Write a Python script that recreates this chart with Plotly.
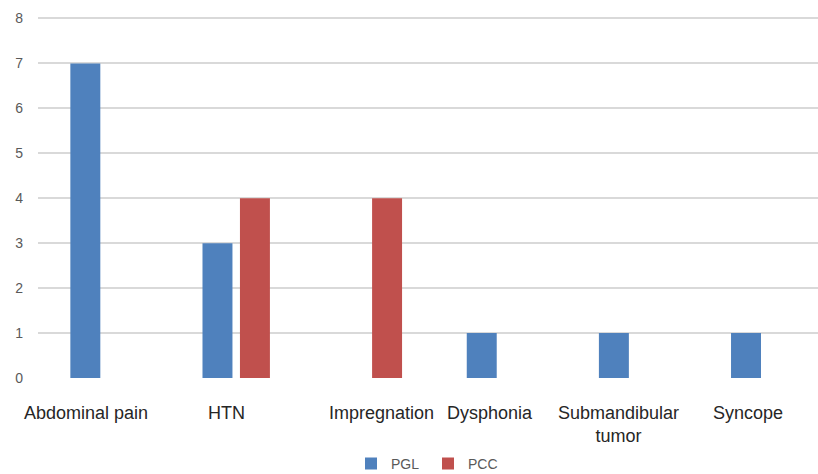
import plotly.graph_objects as go

categories = ["Abdominal pain", "HTN", "Impregnation", "Dysphonia", "Submandibular tumor", "Syncope"]
category_labels = ["Abdominal pain", "HTN", "Impregnation", "Dysphonia", "Submandibular<br>tumor", "Syncope"]
pgl_values = [7, 3, 0, 1, 1, 1]
pcc_values = [0, 4, 4, 0, 0, 0]
y_ticks = [0, 1, 2, 3, 4, 5, 6, 7, 8]

# label horizontal offsets (category units) to mimic original placement
label_offsets = [-0.136, -0.076, 0.098, -0.076, -0.106, -0.129]

BLUE = "#4F81BD"
RED = "#C0504D"

fig = go.Figure()
fig.add_trace(go.Bar(x=list(range(len(categories))), y=pgl_values, name="PGL",
                     marker=dict(color=BLUE, line=dict(width=0))))
fig.add_trace(go.Bar(x=list(range(len(categories))), y=pcc_values, name="PCC",
                     marker=dict(color=RED, line=dict(width=0))))

annotations = []
for i, lab in enumerate(category_labels):
    annotations.append(dict(
        x=i + label_offsets[i], y=0, xref="x", yref="paper",
        text=lab, showarrow=False, xanchor="center", yanchor="top",
        yshift=-23, font=dict(family="Liberation Sans, Arial, sans-serif", size=18, color="#262626"),
    ))

fig.update_layout(
    width=818, height=474,
    margin=dict(l=37.6, r=0, t=13.5, b=96, autoexpand=False),
    paper_bgcolor="white", plot_bgcolor="white",
    barmode="group", bargap=0.433, bargroupgap=0.2,
    showlegend=True,
    legend=dict(orientation="h", x=0.5, xanchor="center", y=-0.236, yanchor="middle",
                font=dict(family="Liberation Sans, Arial, sans-serif", size=14, color="#595959"),
                itemwidth=30, tracegroupgap=0, entrywidth=32),
    annotations=annotations,
    xaxis=dict(range=[-0.5, 5.403], showticklabels=False, showgrid=False, zeroline=False,
               showline=False, ticks="", automargin=False),
    yaxis=dict(range=[0, 8.1], tickvals=y_ticks, showgrid=True, gridcolor="#D9D9D9", gridwidth=1.5,
               zeroline=False, showline=False, ticks="", ticklabelstandoff=14, automargin=False,
               tickfont=dict(family="Liberation Sans, Arial, sans-serif", size=14, color="#595959")),
)

fig.write_html("out.html", config={"displayModeBar": False},
               post_script="document.body.style.margin='0';document.body.style.padding='0';")
